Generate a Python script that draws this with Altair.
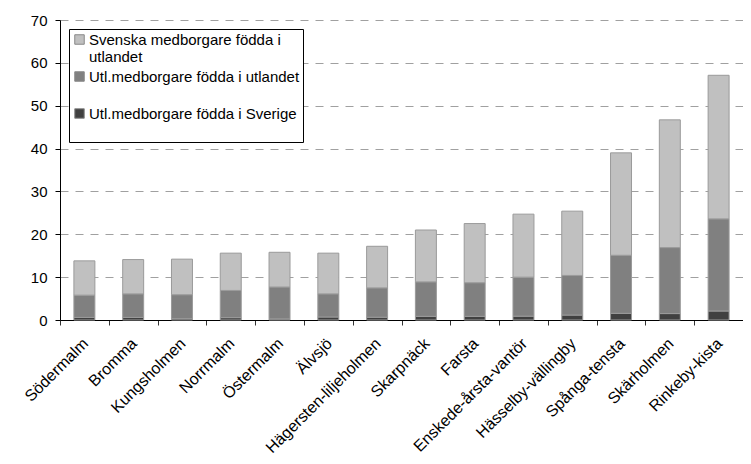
import altair as alt
import pandas as pd

categories = ["Södermalm", "Bromma", "Kungsholmen", "Norrmalm", "Östermalm", "Älvsjö",
              "Hägersten-liljeholmen", "Skarpnäck", "Farsta", "Enskede-årsta-vantör",
              "Hässelby-vällingby", "Spånga-tensta", "Skärholmen", "Rinkeby-kista"]
series = ["Svenska medborgare födda i utlandet",
          "Utl.medborgare födda i utlandet",
          "Utl.medborgare födda i Sverige"]
svenska_fodda_utlandet = [8.0, 8.0, 8.3, 8.7, 8.1, 9.5, 9.7, 12.1, 13.8, 14.7, 15.0, 23.9, 29.8, 33.5]
utl_fodda_utlandet = [5.2, 5.5, 5.6, 6.35, 7.45, 5.4, 6.85, 8.05, 7.85, 9.1, 9.25, 13.55, 15.4, 21.5]
utl_fodda_sverige = [0.6, 0.6, 0.3, 0.55, 0.25, 0.7, 0.65, 0.85, 0.85, 0.9, 1.15, 1.55, 1.5, 2.1]
y_ticks = [0, 10, 20, 30, 40, 50, 60, 70]
colors = ["#c0c0c0", "#808080", "#404040"]

rows = []
for vals, name, order in [(utl_fodda_sverige, series[2], 0),
                          (utl_fodda_utlandet, series[1], 1),
                          (svenska_fodda_utlandet, series[0], 2)]:
    for c, v in zip(categories, vals):
        rows.append({"omrade": c, "serie": name, "varde": v, "ord": order})
df = pd.DataFrame(rows)

FONT = "Liberation Sans"

chart = alt.Chart(df).mark_bar(
    width=alt.RelativeBandSize(0.43), stroke="#9a9a9a", strokeWidth=1
).encode(
    x=alt.X("omrade:N", sort=categories,
            scale=alt.Scale(type="band", paddingInner=0, paddingOuter=0),
            axis=alt.Axis(title=None, labelAngle=-45, labelAlign="right", labelBaseline="top",
                          labelOffset=-5, labelPadding=10, tickBand="extent", tickSize=5,
                          domainColor="#000000", tickColor="#333333", labelColor="#000000",
                          labelFont=FONT, labelFontSize=16, grid=False, labelLimit=300)),
    y=alt.Y("varde:Q", stack="zero",
            scale=alt.Scale(domain=[0, 70], nice=False),
            axis=alt.Axis(title=None, values=y_ticks, tickSize=5, labelPadding=8,
                          domainColor="#000000", tickColor="#000000", labelColor="#000000",
                          labelFont=FONT, labelFontSize=15, grid=True,
                          gridColor="#a0a0a0", gridDash=[8, 7], gridWidth=1)),
    color=alt.Color("serie:N",
                    scale=alt.Scale(domain=series, range=colors),
                    legend=alt.Legend(
                        title=None, orient="none", legendX=9, legendY=9,
                        fillColor="#ffffff", strokeColor="#000000", padding=3,
                        symbolType="square", symbolSize=90, symbolStrokeColor="#888888",
                        symbolStrokeWidth=1, labelFont=FONT, labelFontSize=15,
                        labelColor="#000000", labelLimit=400, rowPadding=4, labelOffset=2,
                        labelExpr="datum.label == 'Svenska medborgare födda i utlandet' ? "
                                  "['Svenska medborgare födda i', 'utlandet'] : [datum.label, '']")),
    order=alt.Order("ord:Q", sort="ascending"),
).properties(
    width=683, height=300,
    autosize=alt.AutoSizeParams(type="none"),
    padding={"left": 52, "top": 12, "right": 0, "bottom": 136},
).configure_view(stroke=None)

chart.save("out.html", embed_options={"renderer": "svg", "actions": False})
